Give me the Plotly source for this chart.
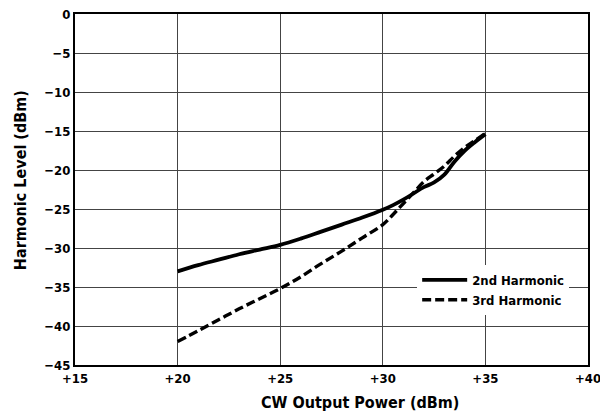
import plotly.graph_objects as go

# Output power (dBm) and measured harmonic levels (dBm)
power_2nd = [20, 21, 22, 23, 24, 25, 26, 27, 28, 29, 30, 30.5, 31, 31.5, 32, 32.5, 33, 33.5, 34, 34.5, 35]
level_2nd = [-33.0, -32.2, -31.5, -30.8, -30.2, -29.6, -28.8, -27.9, -27.0, -26.1, -25.1,
             -24.5, -23.8, -23.0, -22.2, -21.6, -20.6, -18.9, -17.5, -16.4, -15.4]

power_3rd = [20, 21, 22, 23, 24, 25, 26, 27, 28, 29, 30, 30.5, 31, 31.5, 32, 32.5, 33, 33.5, 34, 34.5, 35]
level_3rd = [-42.0, -40.6, -39.2, -37.8, -36.5, -35.2, -33.7, -32.0, -30.4, -28.7, -27.0,
             -25.7, -24.3, -22.9, -21.5, -20.5, -19.5, -18.2, -17.1, -16.2, -15.3]

x_ticks = [15, 20, 25, 30, 35, 40]
x_labels = ["+15", "+20", "+25", "+30", "+35", "+40"]
y_ticks = [0, -5, -10, -15, -20, -25, -30, -35, -40, -45]
y_labels = ["0", "\u22125", "\u221210", "\u221215", "\u221220", "\u221225", "\u221230", "\u221235", "\u221240", "\u221245"]

FONT = "DejaVu Sans Condensed, Roboto Condensed, Liberation Sans Narrow, sans-serif"

fig = go.Figure()
fig.add_trace(go.Scatter(
    x=power_2nd, y=level_2nd, mode="lines", name="2nd Harmonic",
    line=dict(color="black", width=3.8, shape="spline", smoothing=1.0),
))
fig.add_trace(go.Scatter(
    x=power_3rd, y=level_3rd, mode="lines", name="3rd Harmonic",
    line=dict(color="black", width=3.4, dash="9px,4px", shape="spline", smoothing=1.0),
))

axis_common = dict(
    showgrid=True, gridcolor="#444444", gridwidth=1,
    showline=True, linecolor="black", linewidth=2, mirror=True,
    ticks="", zeroline=False, automargin=False, ticklabeloverflow="allow",
    tickfont=dict(family=FONT, size=13, color="black", weight="bold"),
)

title_font = dict(family=FONT, size=16, color="black", weight="bold")

fig.update_layout(
    width=600, height=419,
    margin=dict(l=75, r=12, t=14, b=54),
    paper_bgcolor="white", plot_bgcolor="white",
    xaxis=dict(range=[15, 40], tickvals=x_ticks, ticktext=x_labels, **axis_common),
    yaxis=dict(range=[-45, 0], tickvals=y_ticks, ticktext=y_labels, **axis_common),
    legend=dict(x=0.667, y=0.285, xanchor="left", yanchor="top",
                bgcolor="white", borderwidth=0, tracegroupgap=0, itemwidth=45,
                font=dict(family=FONT, size=13, color="black", weight="bold")),
    showlegend=True,
    annotations=[
        dict(text="CW Output Power (dBm)", xref="paper", yref="paper",
             x=0.556, y=-0.108, xanchor="center", yanchor="middle",
             showarrow=False, font=title_font),
        dict(text="Harmonic Level (dBm)", xref="paper", yref="paper",
             x=-0.107, y=0.527, xanchor="center", yanchor="middle",
             textangle=-90, showarrow=False, font=title_font),
    ],
)

fig.write_html("out.html")
